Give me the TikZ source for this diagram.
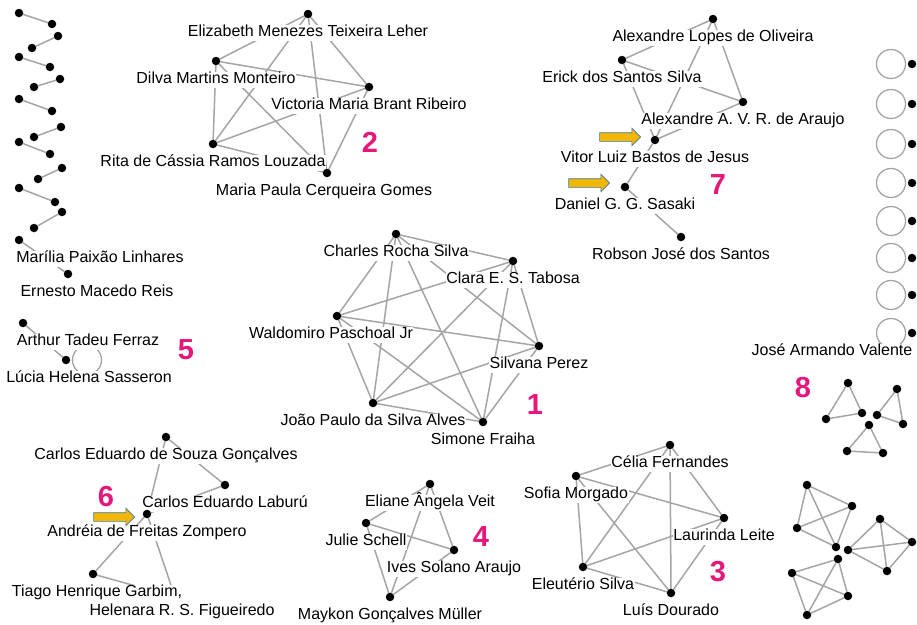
\documentclass[tikz,border=0pt]{standalone}
\usepackage{fontspec}
\setmainfont{Liberation Sans}
\usetikzlibrary{shapes.arrows,backgrounds}
\definecolor{edgegray}{RGB}{165,165,165}
\definecolor{grppink}{HTML}{E5177B}
\definecolor{hintfill}{HTML}{F2B705}
\definecolor{hintline}{HTML}{3E78B2}
\tikzset{
    dot/.style={circle,fill=black,inner sep=0pt,outer sep=0pt,minimum size=8.5pt},
    lbl/.style={fill=white,inner sep=0.5pt,font=\fontsize{16}{16}\selectfont,text height=11.5pt,text depth=3.5pt},
    every label/.style={lbl},
    link/.style={draw=edgegray,line width=1.5pt},
    selfloop/.style={draw=edgegray,line width=1.3pt},
    grpnum/.style={text=grppink,font=\bfseries\fontsize{29}{29}\selectfont,inner sep=0pt},
    hint/.style={single arrow,fill=hintfill,draw=hintline,line width=0.6pt,inner xsep=0pt,inner ysep=4pt,
        text height=0pt,text depth=0pt,minimum height=41pt,single arrow head extend=4.5pt}
}
\begin{document}
\begin{tikzpicture}[x=1pt,y=-1pt,label distance=6.5pt]
                \useasboundingbox (0,0) rectangle (917,624);
                %% pairs on the left
                \node[dot] (pa1) at (19,13) {};  \node[dot] (pb1) at (52,24) {};
                \node[dot] (pa2) at (58,36) {};  \node[dot] (pb2) at (32,48) {};
                \node[dot] (pa3) at (19,57) {};  \node[dot] (pb3) at (50,67) {};
                \node[dot] (pa4) at (60,79) {};  \node[dot] (pb4) at (34,87) {};
                \node[dot] (pa5) at (19,99) {};  \node[dot] (pb5) at (52,111) {};
                \node[dot] (pa6) at (61,127) {}; \node[dot] (pb6) at (34,137) {};
                \node[dot] (pa7) at (19,142) {}; \node[dot] (pb7) at (50,154) {};
                \node[dot] (pa8) at (62,168) {}; \node[dot] (pb8) at (38,179) {};
                \node[dot] (pa9) at (19,188) {}; \node[dot] (pb9) at (55,202) {};
                \node[dot] (pa10) at (62,212) {}; \node[dot] (pb10) at (34,228) {};
                \node[dot,label={[xshift=81pt]below:Marília Paixão Linhares}] (mpl) at (19,240) {};
                \node[dot,label={[xshift=29pt]below:Ernesto Macedo Reis}] (emr) at (68,274) {};
                %% group 5
                \node[dot,label={[xshift=65pt]below:Arthur Tadeu Ferraz}] (atf) at (23,323) {};
                \node[dot,label={[xshift=23pt]below:Lúcia Helena Sasseron}] (lhs) at (66,360) {};
                %% group 2
                \node[dot,label={below:Elizabeth Menezes Teixeira Leher}] (eli) at (308,14) {};
                \node[dot,label={below:Dilva Martins Monteiro}] (dil) at (216,61) {};
                \node[dot,label={below:Victoria Maria Brant Ribeiro}] (vic) at (369,87) {};
                \node[dot,label={below:Rita de Cássia Ramos Louzada}] (rit) at (213,144) {};
                \node[dot,label={[xshift=-3pt]below:Maria Paula Cerqueira Gomes}] (mpc) at (327,173) {};
                %% group 7
                \node[dot,label={below:Alexandre Lopes de Oliveira}] (alo) at (713,19) {};
                \node[dot,label={below:Erick dos Santos Silva}] (ess) at (622,60) {};
                \node[dot,label={below:Alexandre A. V. R. de Araujo}] (aav) at (743,102) {};
                \node[dot,label={below:Vitor Luiz Bastos de Jesus}] (vlb) at (655,140) {};
                \node[dot,label={below:Daniel G. G. Sasaki}] (dgs) at (625,187) {};
                \node[dot,label={below:Robson José dos Santos}] (rjs) at (681,237) {};
                %% group 1
                \node[dot,label={below:Charles Rocha Silva}] (crs) at (396,234) {};
                \node[dot,label={below:Clara E. S. Tabosa}] (cst) at (513,261) {};
                \node[dot,label={[xshift=-6pt]below:Waldomiro Paschoal Jr}] (wpj) at (337,316) {};
                \node[dot,label={below:Silvana Perez}] (svp) at (539,346) {};
                \node[dot,label={below:João Paulo da Silva Alves}] (jpa) at (373,403) {};
                \node[dot,label={below:Simone Fraiha}] (smf) at (483,422) {};
                %% group 6
                \coordinate[label={[xshift=7pt]below:Helenara R. S. Figueiredo}] (hrf) at (175,597);
                \node[dot,label={below:Carlos Eduardo de Souza Gonçalves}] (ceg) at (166,437) {};
                \node[dot,label={below:Carlos Eduardo Laburú}] (cel) at (225,485) {};
                \node[dot,label={below:Andréia de Freitas Zompero}] (afz) at (147,514) {};
                \node[dot,label={[xshift=4pt]below:Tiago Henrique Garbim,}] (thg) at (93,574) {};
                %% group 4
                \node[dot,label={below:Eliane Ângela Veit}] (eav) at (430,484) {};
                \node[dot,label={below:Julie Schell}] (jsc) at (366,523) {};
                \node[dot,label={below:Ives Solano Araujo}] (isa) at (454,550) {};
                \node[dot,label={below:Maykon Gonçalves Müller}] (mgm) at (390,597) {};
                %% group 3
                \node[dot,label={below:Célia Fernandes}] (cfe) at (670,445) {};
                \node[dot,label={below:Sofia Morgado}] (smo) at (576,476) {};
                \node[dot,label={below:Laurinda Leite}] (lle) at (724,518) {};
                \node[dot,label={below:Eleutério Silva}] (esi) at (583,567) {};
                \node[dot,label={below:Luís Dourado}] (ldo) at (671,593) {};
                %% single nodes with loops
                \node[dot] (sl1) at (912,64) {};
                \node[dot] (sl2) at (912,104) {};
                \node[dot] (sl3) at (912,144) {};
                \node[dot] (sl4) at (912,183) {};
                \node[dot] (sl5) at (912,221) {};
                \node[dot] (sl6) at (912,258) {};
                \node[dot] (sl7) at (912,295) {};
                \node[dot,label={[xshift=-80pt]below:José Armando Valente}] (sl8) at (912,333) {};
                %% group 8: triangles
                \node[dot] (ta1) at (848,383) {}; \node[dot] (tb1) at (826,419) {}; \node[dot] (tc1) at (862,413) {};
                \node[dot] (ta2) at (897,389) {}; \node[dot] (tb2) at (877,415) {}; \node[dot] (tc2) at (903,424) {};
                \node[dot] (ta3) at (869,425) {}; \node[dot] (tb3) at (847,451) {}; \node[dot] (tc3) at (883,453) {};
                %% group 8: squares
                \node[dot] (qa1) at (807,485) {}; \node[dot] (qb1) at (852,506) {};
                \node[dot] (qc1) at (797,528) {}; \node[dot] (qd1) at (836,547) {};
                \node[dot] (qa2) at (880,519) {}; \node[dot] (qb2) at (912,542) {};
                \node[dot] (qc2) at (848,550) {}; \node[dot] (qd2) at (887,571) {};
                \node[dot] (qa3) at (838,559) {}; \node[dot] (qb3) at (792,573) {};
                \node[dot] (qc3) at (848,596) {}; \node[dot] (qd3) at (807,615) {};
                %% group numbers
                \node[grpnum] (g1) at (535,405) {1};
                \node[grpnum] (g2) at (370,142) {2};
                \node[grpnum] (g3) at (718,572) {3};
                \node[grpnum] (g4) at (481,537) {4};
                \node[grpnum] (g5) at (186,350) {5};
                \node[grpnum] (g6) at (106,497) {6};
                \node[grpnum] (g7) at (718,185) {7};
                \node[grpnum] (g8) at (803,388) {8};
                %% pointers
                \node[hint] (ar1) at (618,137) {};
                \node[hint] (ar2) at (587,183) {};
                \node[hint] (ar3) at (112,517) {};
                %% edges
                \begin{pgfonlayer}{background}
                \fill[white] (0,0) rectangle (917,624);
                \draw[link] (pa1) -- (pb1) (pa2) -- (pb2) (pa3) -- (pb3) (pa4) -- (pb4) (pa5) -- (pb5)
                    (pa6) -- (pb6) (pa7) -- (pb7) (pa8) -- (pb8) (pa9) -- (pb9) (pa10) -- (pb10)
                    (mpl) -- (emr) (atf) -- (lhs);
                \draw[selfloop] ([xshift=21pt]lhs.center) circle[radius=14.5pt];
                \draw[link] (eli) -- (dil) (eli) -- (vic) (eli) -- (rit) (eli) -- (mpc) (dil) -- (vic)
                    (dil) -- (rit) (dil) -- (mpc) (vic) -- (rit) (vic) -- (mpc) (rit) -- (mpc);
                \draw[link] (alo) -- (ess) (alo) -- (aav) (alo) -- (vlb) (ess) -- (aav) (ess) -- (vlb)
                    (aav) -- (vlb) (vlb) -- (dgs) (dgs) -- (rjs);
                \draw[link] (crs) -- (cst) (crs) -- (wpj) (crs) -- (svp) (crs) -- (jpa) (crs) -- (smf)
                    (cst) -- (wpj) (cst) -- (svp) (cst) -- (jpa) (cst) -- (smf) (wpj) -- (svp)
                    (wpj) -- (jpa) (wpj) -- (smf) (svp) -- (jpa) (svp) -- (smf) (jpa) -- (smf);
                \draw[link] (ceg) -- (cel) (ceg) -- (afz) (cel) -- (afz) (afz) -- (thg) (afz) -- (hrf)
                    (thg) -- (hrf);
                \draw[link] (eav) -- (jsc) (eav) -- (isa) (eav) -- (mgm) (jsc) -- (isa) (jsc) -- (mgm)
                    (isa) -- (mgm);
                \draw[link] (cfe) -- (smo) (cfe) -- (lle) (cfe) -- (esi) (cfe) -- (ldo) (smo) -- (lle)
                    (smo) -- (esi) (smo) -- (ldo) (lle) -- (esi) (lle) -- (ldo) (esi) -- (ldo);
                \draw[selfloop] ([xshift=-21pt]sl1.center) circle[radius=14.5pt]
                    ([xshift=-21pt]sl2.center) circle[radius=14.5pt]
                    ([xshift=-21pt]sl3.center) circle[radius=14.5pt]
                    ([xshift=-21pt]sl4.center) circle[radius=14.5pt]
                    ([xshift=-21pt]sl5.center) circle[radius=14.5pt]
                    ([xshift=-21pt]sl6.center) circle[radius=14.5pt]
                    ([xshift=-21pt]sl7.center) circle[radius=14.5pt]
                    ([xshift=-21pt]sl8.center) circle[radius=14.5pt];
                \draw[link] (ta1) -- (tb1) -- (tc1) -- (ta1) (ta2) -- (tb2) -- (tc2) -- (ta2)
                    (ta3) -- (tb3) -- (tc3) -- (ta3);
                \draw[link] (qa1) -- (qb1) (qa1) -- (qc1) (qa1) -- (qd1) (qb1) -- (qc1) (qb1) -- (qd1) (qc1) -- (qd1)
                    (qa2) -- (qb2) (qa2) -- (qc2) (qa2) -- (qd2) (qb2) -- (qc2) (qb2) -- (qd2) (qc2) -- (qd2)
                    (qa3) -- (qb3) (qa3) -- (qc3) (qa3) -- (qd3) (qb3) -- (qc3) (qb3) -- (qd3) (qc3) -- (qd3);
                \end{pgfonlayer}
\end{tikzpicture}
\end{document}
